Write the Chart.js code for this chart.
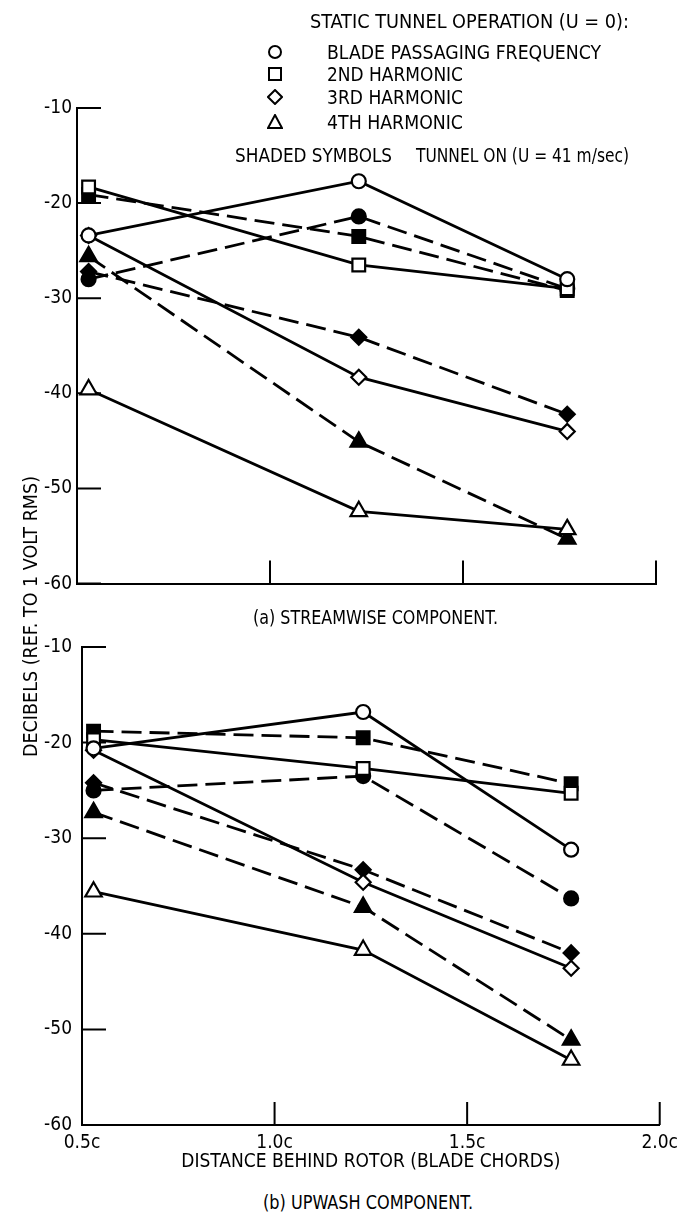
<!DOCTYPE html>
<html lang="en">
<head>
    <meta charset="UTF-8">
    <title>Rotor Wake Harmonics</title>
    <script src="https://cdn.jsdelivr.net/npm/chart.js"></script>
    <style>
        body {
            margin: 0;
            background: #fff;
        }
        #wrap {
            position: relative;
            width: 685px;
            height: 1214px;
            overflow: hidden;
        }
        canvas {
            position: absolute;
            left: 0;
        }
        .txt {
            position: absolute;
            font-family: 'DejaVu Sans Condensed', 'DejaVu Sans', sans-serif;
            font-size: 20px;
            line-height: 1;
            white-space: nowrap;
            color: #000;
            transform-origin: 0 50%;
        }
        .sym {
            position: absolute;
            width: 16px;
            height: 16px;
        }
    </style>
</head>
<body>
<div id="wrap">
    <canvas id="streamwise" width="685" height="600" style="top:0"></canvas>
    <canvas id="upwash" width="685" height="577" style="top:600px"></canvas>

    <!-- legend -->
    <div class="txt" data-w="319" style="left:310px; top:11px">STATIC TUNNEL OPERATION (U = 0):</div>
    <svg class="sym" style="left:267px; top:44px"><circle cx="8" cy="8" r="6" fill="#fff" stroke="#000" stroke-width="2"/></svg>
    <svg class="sym" style="left:267px; top:66px"><rect x="2" y="2" width="12" height="12" fill="#fff" stroke="#000" stroke-width="2"/></svg>
    <svg class="sym" style="left:267px; top:89px"><polygon points="8,1 15,8 8,15 1,8" fill="#fff" stroke="#000" stroke-width="2"/></svg>
    <svg class="sym" style="left:267px; top:114px"><polygon points="8,1 15,14 1,14" fill="#fff" stroke="#000" stroke-width="2"/></svg>
    <div class="txt" data-w="274" style="left:327px; top:42px">BLADE PASSAGING FREQUENCY</div>
    <div class="txt" data-w="136" style="left:327px; top:64px">2ND HARMONIC</div>
    <div class="txt" data-w="136" style="left:327px; top:87px">3RD HARMONIC</div>
    <div class="txt" data-w="136" style="left:327px; top:112px">4TH HARMONIC</div>
    <div class="txt" data-w="157" style="left:235px; top:145px">SHADED SYMBOLS</div>
    <div class="txt" data-w="213" style="left:416px; top:145px">TUNNEL ON (U = 41 m/sec)</div>

    <!-- captions -->
    <div class="txt" data-w="245" style="left:253px; top:607px">(a) STREAMWISE COMPONENT.</div>
    <div class="txt" data-w="210" style="left:263px; top:1192px">(b) UPWASH COMPONENT.</div>
    <div class="txt" id="ytitle" style="left:20px; top:617px; transform-origin:0 0">DECIBELS (REF. TO 1 VOLT RMS)</div>
</div>

<script>
    // distance behind rotor, in blade chords
    const distance = [0.53, 1.23, 1.77];

    // (a) streamwise component, dB
    const streamBpfStatic = [-23.4, -17.7, -28.0];
    const streamBpfOn = [-28.0, -21.4, -29.0];
    const stream2ndStatic = [-18.3, -26.5, -29.0];
    const stream2ndOn = [-19.1, -23.5, -29.2];
    const stream3rdStatic = [-23.4, -38.3, -44.0];
    const stream3rdOn = [-27.2, -34.1, -42.2];
    const stream4thStatic = [-39.6, -52.4, -54.3];
    const stream4thOn = [-25.6, -45.1, -55.3];

    // (b) upwash component, dB
    const upBpfStatic = [-20.6, -16.8, -31.2];
    const upBpfOn = [-25.0, -23.5, -36.3];
    const up2ndStatic = [-19.7, -22.7, -25.3];
    const up2ndOn = [-18.8, -19.5, -24.3];
    const up3rdStatic = [-20.8, -34.6, -43.6];
    const up3rdOn = [-24.2, -33.3, -42.0];
    const up4thStatic = [-35.6, -41.7, -53.2];
    const up4thOn = [-27.3, -37.2, -51.1];

    const xTickValues = [0.5, 1.0, 1.5, 2.0];
    const xTickLabels = ['0.5c', '1.0c', '1.5c', '2.0c'];
    const yTickValues = [-60, -50, -40, -30, -20, -10];

    const FONT = "'DejaVu Sans Condensed', 'DejaVu Sans', sans-serif";

    function series(values, shape, filled, radius) {
        return {
            data: values.map((v, i) => ({ x: distance[i], y: v })),
            borderColor: '#000',
            borderWidth: 2.8,
            borderDash: filled ? [20, 8] : [],
            pointStyle: shape,
            pointRadius: radius,
            pointBorderWidth: 2.2,
            pointBorderColor: '#000',
            pointBackgroundColor: filled ? '#000' : '#fff',
            tension: 0,
            clip: false
        };
    }

    function datasets(bpfS, bpfO, h2S, h2O, h3S, h3O, h4S, h4O) {
        return [
            series(bpfS, 'circle', false, 7),
            series(h2S, 'rect', false, 9),
            series(h3S, 'rectRot', false, 7.5),
            series(h4S, 'triangle', false, 9.5),
            series(bpfO, 'circle', true, 7),
            series(h2O, 'rect', true, 9),
            series(h3O, 'rectRot', true, 7.5),
            series(h4O, 'triangle', true, 9.5)
        ];
    }

    // short tick marks pointing into the plot
    const innerTicks = {
        id: 'innerTicks',
        beforeDatasetsDraw(chart) {
            const { ctx, chartArea: a, scales: { x, y } } = chart;
            ctx.save();
            ctx.strokeStyle = '#000';
            ctx.lineWidth = 2;
            ctx.beginPath();
            yTickValues.forEach(v => {
                const py = y.getPixelForValue(v);
                ctx.moveTo(a.left, py);
                ctx.lineTo(a.left + 24, py);
            });
            xTickValues.slice(1).forEach(v => {
                const px = x.getPixelForValue(v);
                ctx.moveTo(px, a.bottom);
                ctx.lineTo(px, a.bottom - 23);
            });
            ctx.stroke();
            ctx.restore();
        }
    };

    function makeChart(id, sets, box, showX) {
        return new Chart(document.getElementById(id), {
            type: 'line',
            data: { datasets: sets },
            plugins: [innerTicks],
            options: {
                responsive: false,
                animation: false,
                layout: { padding: { top: box.top, right: box.right, left: 0, bottom: 0 } },
                plugins: { legend: { display: false }, tooltip: { enabled: false } },
                scales: {
                    x: {
                        type: 'linear',
                        min: 0.5,
                        max: 2.0,
                        afterBuildTicks: s => { s.ticks = xTickValues.map(v => ({ value: v })); },
                        afterFit: s => { s.height = box.xHeight; },
                        grid: { display: false, drawTicks: false },
                        border: { display: true, color: '#000', width: 2 },
                        ticks: {
                            display: showX,
                            padding: 7,
                            maxRotation: 0,
                            color: '#000',
                            font: { family: FONT, size: 19 },
                            callback: v => xTickLabels[xTickValues.indexOf(v)]
                        },
                        title: {
                            display: showX,
                            text: 'DISTANCE BEHIND ROTOR (BLADE CHORDS)',
                            color: '#000',
                            font: { family: FONT, size: 19 }
                        }
                    },
                    y: {
                        min: -60,
                        max: -10,
                        afterBuildTicks: s => { s.ticks = yTickValues.map(v => ({ value: v })); },
                        afterFit: s => { s.width = box.left; },
                        grid: { display: false, drawTicks: false },
                        border: { display: true, color: '#000', width: 2 },
                        ticks: {
                            padding: box.left - 72,
                            color: '#000',
                            font: { family: FONT, size: 19 }
                        }
                    }
                }
            }
        });
    }

    makeChart('streamwise',
        datasets(streamBpfStatic, streamBpfOn, stream2ndStatic, stream2ndOn,
                 stream3rdStatic, stream3rdOn, stream4thStatic, stream4thOn),
        { top: 108, right: 29, left: 77, xHeight: 15 }, false);

    makeChart('upwash',
        datasets(upBpfStatic, upBpfOn, up2ndStatic, up2ndOn,
                 up3rdStatic, up3rdOn, up4thStatic, up4thOn),
        { top: 47, right: 25, left: 82, xHeight: 52 }, true);

    // squeeze the condensed caption text to the widths in the original
    document.querySelectorAll('.txt[data-w]').forEach(el => {
        const w = el.getBoundingClientRect().width;
        el.style.transform = 'scaleX(' + (parseFloat(el.dataset.w) / w) + ')';
    });
    const yt = document.getElementById('ytitle');
    const yw = yt.getBoundingClientRect().width;
    yt.style.transform = 'translate(0px, 140px) rotate(-90deg) scaleX(' + (281 / yw) + ')';
</script>
</body>
</html>
